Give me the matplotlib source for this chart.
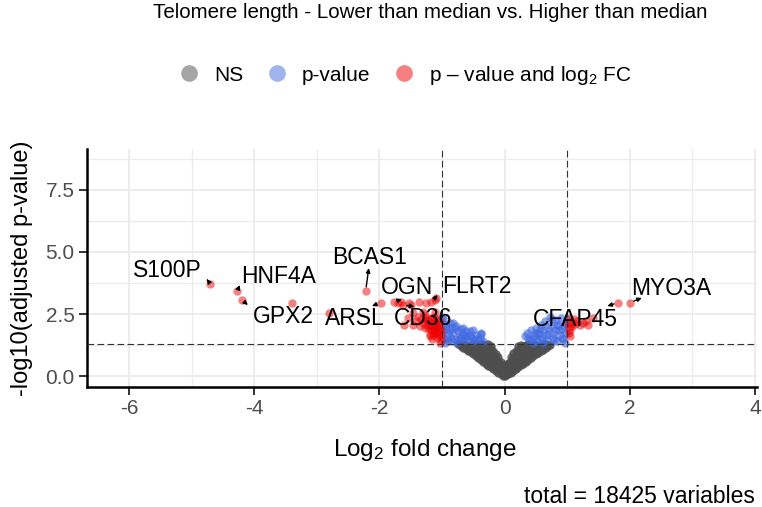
import matplotlib
matplotlib.use("Agg")
import matplotlib.pyplot as plt
from matplotlib.lines import Line2D

plt.rcParams["font.family"] = ["Liberation Sans", "DejaVu Sans"]
plt.rcParams["mathtext.fontset"] = "custom"
plt.rcParams["mathtext.rm"] = "Liberation Sans"
plt.rcParams["mathtext.it"] = "Liberation Sans:italic"
plt.rcParams["axes.unicode_minus"] = False

# grey, not significant
ns_x = [0.0, 0.0, 0.0, -0.02, -0.02, -0.02, -0.06, -0.06, -0.06, -0.10, -0.10, -0.10, -0.10,
        -0.14, -0.14, -0.14, -0.14, -0.18, -0.18, -0.18, -0.18, -0.22, -0.22, -0.22, -0.22, -0.22,
        -0.26, -0.26, -0.26, -0.26, -0.26, -0.30, -0.30, -0.30, -0.30, -0.34, -0.34, -0.34, -0.34,
        -0.38, -0.38, -0.38, -0.38, -0.42, -0.42, -0.42, -0.46, -0.46, -0.46, -0.50, -0.50, -0.50,
        -0.54, -0.54, -0.58, -0.58, -0.62, -0.62, -0.66, -0.66, -0.70, -0.74,
        0.02, 0.02, 0.02, 0.06, 0.06, 0.06, 0.10, 0.10, 0.10, 0.10,
        0.14, 0.14, 0.14, 0.14, 0.18, 0.18, 0.18, 0.18, 0.22, 0.22, 0.22, 0.22, 0.22,
        0.26, 0.26, 0.26, 0.26, 0.26, 0.30, 0.30, 0.30, 0.30, 0.34, 0.34, 0.34, 0.34,
        0.38, 0.38, 0.38, 0.38, 0.42, 0.42, 0.42, 0.46, 0.46, 0.46, 0.50, 0.50, 0.50,
        0.54, 0.54, 0.58, 0.58, 0.62, 0.62, 0.66, 0.66, 0.70, 0.73]
ns_y = [0.0, 0.2, 0.4, 0.02, 0.22, 0.45, 0.08, 0.32, 0.55, 0.12, 0.38, 0.62, 0.75,
        0.20, 0.45, 0.70, 0.90, 0.28, 0.52, 0.78, 1.02, 0.36, 0.60, 0.85, 1.08, 1.22,
        0.42, 0.68, 0.92, 1.15, 1.28, 0.50, 0.75, 1.00, 1.22, 0.58, 0.82, 1.06, 1.28,
        0.64, 0.88, 1.12, 1.28, 0.72, 0.96, 1.20, 0.80, 1.02, 1.26, 0.88, 1.08, 1.28,
        0.95, 1.15, 1.02, 1.22, 1.08, 1.27, 1.15, 1.28, 1.22, 1.28,
        0.03, 0.24, 0.46, 0.07, 0.30, 0.54, 0.13, 0.36, 0.60, 0.76,
        0.21, 0.44, 0.68, 0.92, 0.27, 0.50, 0.76, 1.00, 0.35, 0.58, 0.84, 1.06, 1.20,
        0.43, 0.66, 0.90, 1.14, 1.27, 0.50, 0.74, 0.98, 1.21, 0.57, 0.80, 1.05, 1.27,
        0.65, 0.87, 1.10, 1.28, 0.71, 0.95, 1.19, 0.79, 1.01, 1.25, 0.87, 1.07, 1.27,
        0.94, 1.14, 1.01, 1.21, 1.07, 1.26, 1.14, 1.28, 1.21, 1.27]

# blue, p-value only
p_x = [-0.98, -0.95, -0.93, -0.90, -0.97, -0.88, -0.85, -0.82, -0.80, -0.78, -0.75, -0.72,
       -0.70, -0.67, -0.65, -0.62, -0.60, -0.55, -0.52, -0.50, -0.45, -0.42, -0.38, -0.35,
       -0.90, -0.99, -0.96, -0.86, -0.76, -0.83, -0.67, -0.51, -0.37, -1.0,
       -0.92, -0.87, -0.80, -0.73, -0.69, -0.58, -0.47, -0.40, -0.94, -0.84, -0.64, -0.56,
       0.33, 0.36, 0.40, 0.42, 0.47, 0.50, 0.52, 0.55, 0.58, 0.60, 0.63, 0.65, 0.68, 0.70,
       0.72, 0.74, 0.77, 0.80, 0.82, 0.84, 0.86, 0.88, 0.90, 0.92, 0.94, 0.96, 0.98, 0.99,
       0.97, 0.75, 0.62, 0.45,
       0.38, 0.44, 0.53, 0.57, 0.66, 0.69, 0.78, 0.83, 0.87, 0.91, 0.95, 0.79, 0.56, 0.49]
p_y = [2.30, 2.10, 1.90, 1.70, 1.50, 2.15, 1.95, 1.75, 1.50, 2.00, 1.80, 1.60,
       1.90, 1.70, 1.45, 1.80, 1.60, 1.80, 1.55, 1.40, 1.65, 1.45, 1.70, 1.40,
       1.40, 1.80, 1.35, 1.55, 1.35, 2.14, 1.94, 1.85, 1.73, 2.38,
       1.55, 1.80, 1.95, 1.50, 1.55, 1.45, 1.50, 1.55, 2.00, 1.40, 1.60, 1.65,
       1.60, 1.75, 1.45, 1.85, 1.60, 1.95, 1.40, 1.75, 2.05, 1.55, 1.85, 2.20, 1.45, 1.70,
       2.38, 2.00, 1.55, 1.85, 2.25, 1.40, 2.05, 1.65, 2.35, 1.90, 1.50, 2.15, 1.75, 2.30,
       1.35, 2.30, 1.35, 1.35,
       1.55, 1.50, 1.70, 1.50, 1.65, 1.95, 1.75, 2.05, 1.85, 1.55, 2.00, 1.45, 1.90, 1.75]

# red, p-value and log2 FC
sig_x = [-4.70, -4.27, -4.19, -3.39, -2.80, -2.22, -1.98, -1.76, -1.71, -1.65, -1.63, -1.52,
         -1.49, -1.36, -1.25, -1.17, -1.12, -1.09, -1.60, -1.55, -1.47, -1.39, -1.31, -1.25,
         -1.20, -1.15, -1.09, -1.07, -1.12, -1.47, -1.22, -1.18, -1.14, -1.10, -1.05, -1.03,
         -1.02, -1.06, -1.08, -1.13, -1.30, -1.35, -1.42, -1.28, -1.20, -1.16, -1.04, -1.01,
         -1.12, -1.24, -1.26, -1.18, -1.10, -1.05, -1.15, -1.22, -1.08, -1.02, -1.27, -1.33,
         -1.14, -1.06, -1.20, -1.03, -1.11, -1.17,
         1.81, 2.00, 1.41, 1.25, 1.20, 1.07, 1.02, 1.01, 1.05, 1.10, 1.15, 1.30, 1.04, 1.03,
         1.33, 1.08, 1.12, 1.02]
sig_y = [3.71, 3.43, 3.06, 2.94, 2.54, 3.43, 2.96, 3.00, 2.96, 3.00, 2.86, 2.94,
         2.86, 3.00, 2.94, 2.98, 3.05, 3.14, 2.06, 2.34, 2.54, 2.38, 2.58, 2.34,
         2.06, 1.94, 1.77, 2.14, 2.58, 2.06, 2.20, 1.85, 1.65, 2.00, 1.60, 1.90,
         1.45, 1.70, 2.30, 2.40, 2.15, 2.00, 2.20, 1.95, 1.70, 1.50, 2.20, 1.80,
         1.75, 2.05, 2.25, 2.10, 1.90, 2.05, 2.25, 1.95, 1.55, 1.65, 2.45, 2.30,
         1.85, 1.95, 1.60, 1.35, 2.15, 2.35,
         2.96, 2.96, 2.34, 2.14, 2.06, 2.14, 1.98, 2.14, 1.85, 2.30, 2.20, 2.20, 1.60, 2.35,
         2.05, 2.00, 2.10, 1.75]

# labelled genes
gene_names = ["S100P", "HNF4A", "GPX2", "BCAS1", "ARSL", "OGN", "CD36", "FLRT2", "CFAP45", "MYO3A"]
gene_x = [-4.70, -4.27, -4.19, -2.22, -1.98, -1.76, -1.63, -1.17, 1.81, 2.00]
gene_y = [3.71, 3.43, 3.06, 3.43, 2.96, 3.00, 2.86, 2.98, 2.96, 2.96]

# label text centres and connector starts
label_x = [-5.38, -3.61, -3.53, -2.15, -2.39, -1.56, -1.31, -0.45, 1.13, 2.66]
label_y = [4.27, 4.03, 2.42, 4.76, 2.30, 3.55, 2.30, 3.59, 2.26, 3.51]
conn_x = [-4.76, -4.23, -4.10, -2.17, -2.12, -1.64, -1.44, -1.07, 1.64, 2.19]
conn_y = [3.91, 3.67, 2.86, 4.35, 2.82, 3.10, 2.80, 3.27, 2.82, 3.15]

fc_cut = 1.0
p_cut = 1.30

col_ns = "#4D4D4D"
col_p = "#4169E1"
col_sig = "#EE0000"

fig = plt.figure(figsize=(7.62, 5.07), dpi=100)
ax = fig.add_axes([0.1142, 0.2367, 0.8792, 0.4694])

ax.set_xlim(-6.67, 4.03)
ax.set_ylim(-0.44, 9.15)

ax.set_xticks([-6, -4, -2, 0, 2, 4])
ax.set_xticks([-5, -3, -1, 1, 3], minor=True)
ax.set_yticks([0, 2.5, 5, 7.5])
ax.set_yticklabels(["0.0", "2.5", "5.0", "7.5"])
ax.set_yticks([1.25, 3.75, 6.25, 8.75], minor=True)
ax.grid(which="major", color="#EBEBEB", lw=1.3)
ax.grid(which="minor", color="#EBEBEB", lw=0.9)
ax.set_axisbelow(True)

for s in ["top", "right"]:
    ax.spines[s].set_visible(False)
for s in ["left", "bottom"]:
    ax.spines[s].set_linewidth(1.8)
ax.tick_params(which="major", length=6, width=1.4, color="#333333",
               labelsize=15, labelcolor="#4D4D4D", pad=3)
ax.tick_params(which="minor", length=0)

ax.scatter(ns_x, ns_y, s=36, color=col_ns, alpha=0.85, lw=0, zorder=2)
ax.scatter(p_x, p_y, s=36, color=col_p, alpha=0.6, lw=0, zorder=2)
ax.scatter(sig_x, sig_y, s=36, color=col_sig, alpha=0.5, lw=0, zorder=2)

ax.axhline(p_cut, color="#333333", lw=0.8, ls=(0, (6, 3)), zorder=3)
ax.axvline(-fc_cut, color="#333333", lw=0.8, ls=(0, (6, 3)), zorder=3)
ax.axvline(fc_cut, color="#333333", lw=0.8, ls=(0, (6, 3)), zorder=3)

for name, lx, ly in zip(gene_names, label_x, label_y):
    ax.text(lx, ly, name, ha="center", va="center", fontsize=16.5, color="black", zorder=4)
for gx, gy, cx, cy in zip(gene_x, gene_y, conn_x, conn_y):
    ax.annotate("", xy=(gx, gy), xytext=(cx, cy), zorder=4,
                arrowprops=dict(arrowstyle="<|-,head_length=0.25,head_width=0.12",
                                color="black", lw=1, shrinkA=0, shrinkB=3,
                                mutation_scale=10))

ax.set_xlabel("Log$_2$ fold change", fontsize=17.5)
ax.xaxis.set_label_coords(0.504, -0.21)
ax.set_ylabel("-log10(adjusted p-value)", fontsize=17)
ax.yaxis.set_label_coords(-0.08, 0.5)

fig.text(0.565, 0.976, "Telomere length - Lower than median vs. Higher than median",
         ha="center", va="center", fontsize=14.8)
fig.text(0.99, 0.02, "total = 18425 variables", ha="right", va="center", fontsize=16.5)

handles = [Line2D([], [], ls="", marker="o", markersize=12, color=c, alpha=0.5, mew=0)
           for c in [col_ns, col_p, col_sig]]
fig.legend(handles, ["NS", "p-value", "p – value and log$_2$ FC"], loc="center",
           bbox_to_anchor=(0.53, 0.852), ncol=3, frameon=False, fontsize=15,
           handletextpad=0.6, columnspacing=1.0, handlelength=1.2)

fig.savefig("out.png", dpi=100)
